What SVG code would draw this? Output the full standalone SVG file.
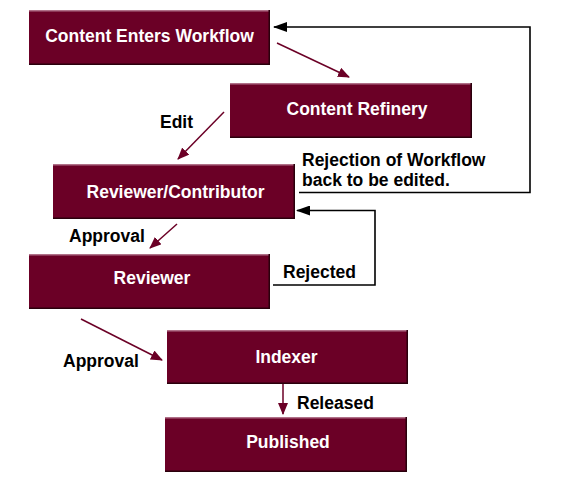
<svg xmlns="http://www.w3.org/2000/svg" width="565" height="480" viewBox="0 0 565 480">
<defs>
<style>
.box{fill:#6B0026;}
.hi{stroke:#B07088;stroke-width:1.5;fill:none;}
.sh{stroke:#2A000C;stroke-width:1.5;fill:none;}
.nt{font-family:"Liberation Sans",Arial,sans-serif;font-weight:bold;font-size:17.5px;fill:#FFFFFF;text-anchor:middle;}
.lb{font-family:"Liberation Sans",Arial,sans-serif;font-weight:bold;font-size:17.5px;fill:#000000;}
.red{stroke:#6B0026;stroke-width:1.5;fill:none;}
.blk{stroke:#000000;stroke-width:1.6;fill:none;}
</style>
<marker id="ar" viewBox="0 0 12 10" refX="11" refY="5" markerWidth="12" markerHeight="10" markerUnits="userSpaceOnUse" orient="auto">
<path d="M0,0 L12,5 L0,10 Z" fill="#6B0026"/>
</marker>
<marker id="ab" viewBox="0 0 14 10" refX="13" refY="5" markerWidth="14" markerHeight="10" markerUnits="userSpaceOnUse" orient="auto">
<path d="M0,0 L14,5 L0,10 Z" fill="#000000"/>
</marker>
</defs>
<rect width="565" height="480" fill="#FFFFFF"/>

<g id="connectors">
<line class="red" x1="277" y1="43" x2="349" y2="77" marker-end="url(#ar)"/>
<line class="red" x1="224" y1="112" x2="178" y2="159" marker-end="url(#ar)"/>
<line class="red" x1="177" y1="224" x2="150" y2="248" marker-end="url(#ar)"/>
<line class="red" x1="81" y1="319" x2="162" y2="360" marker-end="url(#ar)"/>
<line class="red" x1="283" y1="384" x2="283" y2="414" marker-end="url(#ar)"/>
<polyline class="blk" points="299,192.5 530,192.5 530,27 274,27" marker-end="url(#ab)"/>
<polyline class="blk" points="273,285 375,285 375,210.5 297,210.5" marker-end="url(#ab)"/>
</g>

<g id="labels">
<text class="lb" x="160" y="128">Edit</text>
<text class="lb" x="302" y="166">Rejection of Workflow</text>
<text class="lb" x="302" y="186">back to be edited.</text>
<text class="lb" x="69" y="242">Approval</text>
<text class="lb" x="283" y="278">Rejected</text>
<text class="lb" x="63" y="367">Approval</text>
<text class="lb" x="297" y="409">Released</text>
</g>

<g id="node-content-enters-workflow">
<rect class="box" x="29" y="10" width="241" height="55"/>
<path class="hi" d="M29,10.75 H270"/>
<path class="sh" d="M269.25,10 V64.25 H29"/>
<text class="nt" x="149.5" y="42">Content Enters Workflow</text>
</g>

<g id="node-content-refinery">
<rect class="box" x="230" y="83" width="242" height="55"/>
<path class="hi" d="M230,83.75 H472"/>
<path class="sh" d="M471.25,83 V137.25 H230"/>
<text class="nt" x="357" y="115">Content Refinery</text>
</g>

<g id="node-reviewer-contributor">
<rect class="box" x="53" y="164" width="242" height="55"/>
<path class="hi" d="M53,164.75 H295"/>
<path class="sh" d="M294.25,164 V218.25 H53"/>
<text class="nt" x="175.5" y="198">Reviewer/Contributor</text>
</g>

<g id="node-reviewer">
<rect class="box" x="29" y="254" width="241" height="55"/>
<path class="hi" d="M29,254.75 H270"/>
<path class="sh" d="M269.25,254 V308.25 H29"/>
<text class="nt" x="152" y="284">Reviewer</text>
</g>

<g id="node-indexer">
<rect class="box" x="167" y="330" width="241" height="54"/>
<path class="hi" d="M167,330.75 H408"/>
<path class="sh" d="M407.25,330 V383.25 H167"/>
<text class="nt" x="286.5" y="363">Indexer</text>
</g>

<g id="node-published">
<rect class="box" x="165" y="417" width="242" height="55"/>
<path class="hi" d="M165,417.75 H407"/>
<path class="sh" d="M406.25,417 V471.25 H165"/>
<text class="nt" x="288" y="448">Published</text>
</g>
</svg>
